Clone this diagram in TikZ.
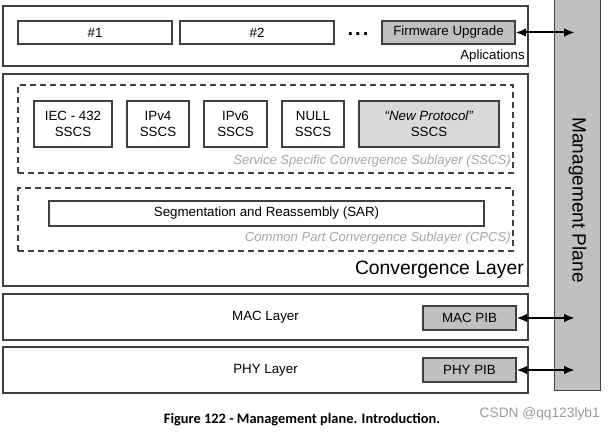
\documentclass[tikz,border=0pt]{standalone}
\usepackage{fontspec}
\setmainfont{Liberation Sans}
\newfontfamily\capfont{Carlito}
\usetikzlibrary{arrows.meta,calc}
\definecolor{edge}{HTML}{404040}
\definecolor{pib}{HTML}{C0C0C0}
\definecolor{newp}{HTML}{D9D9D9}
\definecolor{lbl}{HTML}{A6A6A6}
\definecolor{wm}{HTML}{9A9A9A}
\begin{document}
\begin{tikzpicture}[x=0.75pt,y=-0.75pt,
  sz/.style 2 args={minimum width=#1*0.75pt,minimum height=#2*0.75pt},
  txt/.style={font=\fontsize{10}{12}\selectfont},
  box/.style={draw=edge,line width=0.8pt,fill=white,inner sep=0pt,txt,align=center},
  gbox/.style={box,fill=pib},
  dbox/.style={draw=edge,line width=0.8pt,dash pattern=on 4.5pt off 3pt,inner sep=0pt},
  sub/.style={anchor=east,inner sep=0pt,text=lbl,font=\fontsize{9.8}{11.5}\selectfont\itshape},
  link/.style={line width=1.5pt,{Latex[length=8pt,width=6.5pt]}-{Latex[length=8pt,width=6.5pt]}}
]
\useasboundingbox (0,0) rectangle (616,434);
% management plane
\node[fill=pib,inner sep=0pt,sz={45}{391}] (mp) at (577.5,194.5) {};
\draw[edge,line width=0.8pt] (mp.north west) -- (mp.south west) -- (mp.south east) -- (mp.north east);
\node[rotate=-90,font=\fontsize{14.3}{16}\selectfont] (mplbl) at (577.5,200) {Management Plane};
% applications
\node[box,sz={525}{60}] (app) at (265.5,36) {};
\node[box,sz={154}{23}] (n1) at (95,32.5) {\#1};
\node[box,sz={154}{23}] (n2) at (257,32.5) {\#2};
\node[font=\fontsize{15}{16}\selectfont\bfseries,inner sep=0pt] (dots) at (358,34) {.\kern1.5pt.\kern1.5pt.};
\node[gbox,sz={133}{23}] (fw) at (448.5,32.5) {Firmware Upgrade};
\node[anchor=east,inner sep=0pt,txt] (applbl) at (525,56) {Aplications};
% convergence layer
\node[box,sz={525}{212}] (conv) at (265.5,180) {};
\node[dbox,sz={495}{88}] (sscs) at (265.5,129) {};
\node[box,sz={78}{46}] (iec) at (73,124) {IEC - 432\\SSCS};
\node[box,sz={62}{46}] (ipv4) at (158,124) {IPv4\\SSCS};
\node[box,sz={63}{46}] (ipv6) at (235.5,124) {IPv6\\SSCS};
\node[box,sz={62}{46}] (null) at (313,124) {NULL\\SSCS};
\node[box,fill=newp,sz={140}{46}] (newp) at (429,124) {\textit{``New Protocol''}\\SSCS};
\node[sub] (sscslbl) at (511,161) {Service Specific Convergence Sublayer (SSCS)};
\node[dbox,sz={495}{63}] (cpcs) at (265.5,219.5) {};
\node[box,sz={435}{25}] (sar) at (266.5,213.5) {Segmentation and Reassembly (SAR)};
\node[sub] (cpcslbl) at (511,238) {Common Part Convergence Sublayer (CPCS)};
\node[anchor=east,inner sep=0pt,font=\fontsize{14.5}{16}\selectfont] (convlbl) at (524,270) {Convergence Layer};
% MAC / PHY
\node[box,sz={525}{46}] (mac) at (265.5,317) {MAC Layer};
\node[gbox,sz={93}{24}] (macpib) at (469.5,318) {MAC PIB};
\node[box,sz={525}{46}] (phy) at (265.5,370) {PHY Layer};
\node[gbox,sz={93}{24}] (phypib) at (469.5,370) {PHY PIB};
% links
\coordinate (fwend) at ($(fw.east -| mp.west)+(20,0)$);
\coordinate (macend) at ($(macpib.east -| mp.west)+(20,0)$);
\coordinate (phyend) at ($(phypib.east -| mp.west)+(20,0)$);
\draw[link] (fw.east) -- (fwend);
\draw[link] (macpib.east) -- (macend);
\draw[link] (phypib.east) -- (phyend);
% caption
\node[font=\capfont\fontsize{10.8}{12}\selectfont\bfseries] (cap) at (302,420) {Figure 122 - Management plane. Introduction.};
\node[anchor=east,inner sep=0pt,text=wm,font=\fontsize{10.3}{12}\selectfont] (wmk) at (600,414) {CSDN @qq123lyb1};
\end{tikzpicture}
\end{document}
